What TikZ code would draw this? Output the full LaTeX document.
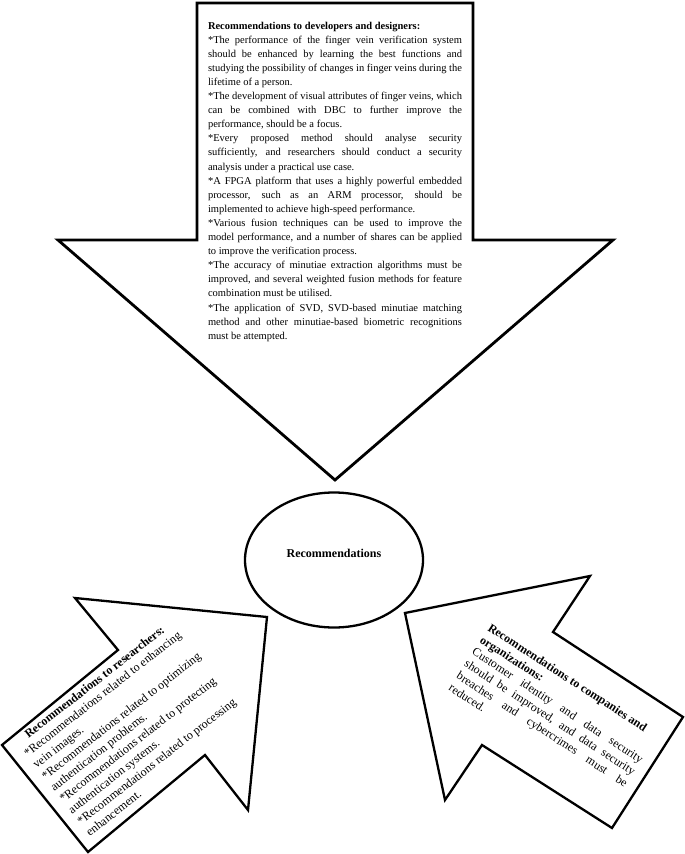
\documentclass[tikz,border=0pt]{standalone}
\usepackage{fontspec}
\setmainfont{Liberation Serif}
\usetikzlibrary{shapes.geometric}
\newcommand\jline[1]{\hbox to\hsize{#1}}
\newcommand\lline[1]{\hbox to\hsize{#1\hfil}}
\newcommand\cenline[1]{\hbox to\hsize{\hfil#1\hfil}}
\tikzset{
  bigarrow/.style={draw, line width=2.8pt, line join=miter, fill=white},
  sidearrow/.style={draw, line width=2.3pt, line join=miter, fill=white},
  txt/.style={inner sep=0pt, outer sep=0pt, anchor=base west}
}
\begin{document}
\begin{tikzpicture}[x=1pt,y=-1pt]
\useasboundingbox (0,0) rectangle (685,854);
% top arrow
\draw[bigarrow] (197,3) -- (473,3) -- (473,240) -- (613,240) -- (335,480) -- (58,240) -- (197,240) -- cycle;
% left arrow
\draw[sidearrow] (75,598) -- (267,617) -- (248,810) -- (205,755) -- (88,852) -- (2,745) -- (118,650) -- cycle;
% right arrow
\draw[sidearrow] (405,613) -- (590,576) -- (553,632) -- (683,717) -- (612,828) -- (482,745) -- (445,800) -- cycle;
% centre ellipse
\node[draw, ellipse, line width=2.3pt, minimum width=178pt, minimum height=135pt, inner sep=0pt] (rec) at (334,560) {};
\node[inner sep=0pt, font=\bfseries\fontsize{12}{14}\selectfont] (reclabel) at (334,553) {Recommendations};
% top text
\node[txt] (dev) at (208,29) {\vtop{\hsize=254pt \fontsize{10.5}{14.1}\selectfont
\lline{\bfseries Recommendations to developers and designers:}
\jline{*The performance of the finger vein verification system}
\jline{should be enhanced by learning the best functions and}
\jline{studying the possibility of changes in finger veins during the}
\lline{lifetime of a person.}
\jline{*The development of visual attributes of finger veins, which}
\jline{can be combined with DBC to further improve the}
\lline{performance, should be a focus.}
\jline{*Every proposed method should analyse security}
\jline{sufficiently, and researchers should conduct a security}
\lline{analysis under a practical use case.}
\jline{*A FPGA platform that uses a highly powerful embedded}
\jline{processor, such as an ARM processor, should be}
\lline{implemented to achieve high-speed performance.}
\jline{*Various fusion techniques can be used to improve the}
\jline{model performance, and a number of shares can be applied}
\lline{to improve the verification process.}
\jline{*The accuracy of minutiae extraction algorithms must be}
\jline{improved, and several weighted fusion methods for feature}
\lline{combination must be utilised.}
\jline{*The application of SVD, SVD-based minutiae matching}
\jline{method and other minutiae-based biometric recognitions}
\lline{must be attempted.}
}};
% left arrow text
\node[txt, rotate=38] (res) at (19,746) {\vtop{\hsize=198pt \fontsize{12}{14.4}\selectfont
\cenline{\bfseries Recommendations to researchers:}
\lline{*Recommendations related to enhancing}
\lline{vein images.}
\lline{*Recommendations related to optimizing}
\lline{authentication problems.}
\lline{*Recommendations related to protecting}
\lline{authentication systems.}
\lline{*Recommendations related to processing}
\lline{enhancement.}
}};
% right arrow text
\node[txt, rotate=-33] (org) at (487,630) {\vtop{\hsize=201pt \fontsize{12}{14.3}\selectfont
\lline{\bfseries Recommendations to companies and}
\lline{\bfseries organizations:}
\jline{Customer identity and data security}
\jline{should be improved, and data security}
\jline{breaches and cybercrimes must be}
\lline{reduced.}
}};
\end{tikzpicture}
\end{document}
